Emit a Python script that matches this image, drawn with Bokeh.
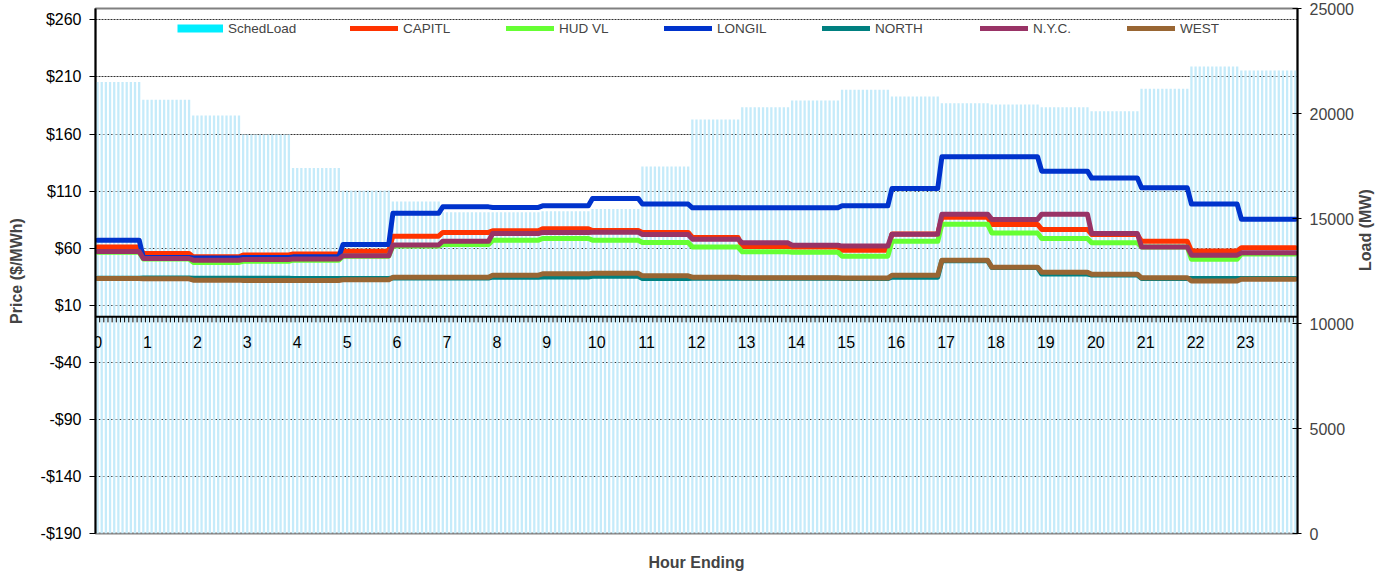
import math
import numpy as np
from bokeh.plotting import figure
from bokeh.models import (Range1d, LinearAxis, FixedTicker, Span, Legend, LegendItem,
                          ColumnDataSource)
from bokeh.embed import file_html
from bokeh.resources import INLINE
from bokeh.core.properties import value

# ---------------- data (hourly values) ----------------
hours = list(range(24))
hour_labels = [str(h) for h in hours]
sched_load = [21500, 20650, 19900, 19000, 17400, 16330, 15810, 15300, 15300, 15350,
              15450, 17480, 19710, 20300, 20620, 21130, 20810, 20490, 20430, 20300,
              20110, 21180, 22240, 22050]
capitl = [61.1, 55.3, 52.4, 54.0, 55.0, 57.4, 70.5, 73.8, 75.2, 77.0, 75.5, 73.8,
          69.4, 61.5, 61.0, 58.2, 72.5, 87.0, 80.8, 76.4, 72.0, 66.1, 57.6, 60.3]
hud_vl = [56.5, 50.5, 47.5, 48.5, 49.5, 53.0, 62.0, 63.2, 67.0, 68.5, 67.0, 65.0,
          61.0, 56.8, 56.5, 53.0, 66.0, 81.0, 73.4, 68.5, 64.7, 61.0, 50.4, 55.0]
longil = [67.0, 51.8, 51.5, 51.8, 52.4, 63.2, 90.5, 96.2, 95.7, 97.1, 103.6, 98.6,
          95.4, 95.4, 95.4, 97.1, 112.3, 140.1, 140.1, 127.5, 121.4, 112.9, 98.6, 85.4]
north = [33.6, 33.8, 33.6, 33.6, 33.4, 33.4, 33.8, 33.8, 34.6, 34.8, 35.4, 33.4,
         33.6, 33.6, 33.6, 33.4, 34.6, 49.0, 43.0, 37.3, 36.5, 33.5, 33.4, 33.4]
nyc = [57.0, 51.0, 49.5, 50.0, 50.6, 53.3, 62.8, 66.1, 72.9, 73.8, 74.0, 72.0,
       67.9, 64.7, 62.6, 61.8, 72.3, 89.8, 85.2, 89.8, 72.9, 61.1, 53.9, 55.9]
west = [33.4, 33.2, 32.0, 31.6, 31.7, 32.3, 34.5, 34.5, 36.3, 37.5, 38.0, 35.8,
        34.6, 34.0, 34.0, 33.8, 36.3, 49.5, 43.3, 39.0, 37.2, 34.0, 31.3, 32.8]
price_ticks = list(range(-190, 261, 50))
load_ticks = list(range(0, 25001, 5000))

series_names = ["CAPITL", "HUD VL", "LONGIL", "NORTH", "N.Y.C.", "WEST"]
series_vals = [capitl, hud_vl, longil, north, nyc, west]
series_colors = ["#FF3300", "#66FF33", "#0033CC", "#008080", "#993366", "#996633"]

# 5-minute intervals over the day (hour-ending convention)
n_pts = 289
k = np.arange(n_pts)
hour_of_pt = np.minimum((k + 1) // 12, 23)
xs = k + 0.5

FONT = "Liberation Sans"

p = figure(width=1385, height=573, x_range=Range1d(0, n_pts), y_range=Range1d(-190, 270),
           output_backend="svg", toolbar_location=None,
           min_border_left=95, min_border_right=87, min_border_top=8, min_border_bottom=40)
p.extra_y_ranges = {"load": Range1d(0, 25000)}
p.background_fill_color = "white"
p.outline_line_color = "#808080"
p.outline_line_width = 2

# left axis
ya = p.yaxis[0]
ya.ticker = FixedTicker(ticks=price_ticks)
ya.major_label_overrides = {t: ("$%d" % t if t >= 0 else "-$%d" % (-t)) for t in price_ticks}
ya.axis_label = "Price ($/MWh)"
ya.axis_label_text_font = FONT
ya.axis_label_text_font_style = "bold"
ya.axis_label_text_font_size = "16px"
ya.axis_label_standoff = 13
ya.major_label_text_font = FONT
ya.major_label_text_font_size = "16px"
ya.major_label_text_color = "black"
ya.axis_line_color = "black"
ya.axis_line_width = 2
ya.major_tick_in = 0
ya.major_tick_out = 6
ya.major_tick_line_color = "black"
ya.minor_tick_line_color = None
ya.major_label_standoff = 8

# right axis
ra = LinearAxis(y_range_name="load", ticker=FixedTicker(ticks=load_ticks))
ra.axis_label = "Load (MW)"
ra.axis_label_orientation = math.pi / 2
ra.axis_label_text_font = FONT
ra.axis_label_text_font_style = "bold"
ra.axis_label_text_font_size = "16px"
ra.axis_label_standoff = 9
ra.major_label_text_font = FONT
ra.major_label_text_font_size = "16px"
ra.axis_line_color = "black"
ra.axis_line_width = 2
ra.major_tick_in = 5
ra.major_tick_out = 4
ra.major_tick_line_color = "black"
ra.minor_tick_line_color = None
ra.major_label_standoff = 8
p.add_layout(ra, "right")

# bottom axis: only the title
xa = p.xaxis[0]
xa.ticker = FixedTicker(ticks=[])
xa.axis_line_color = None
xa.major_tick_line_color = None
xa.minor_tick_line_color = None
xa.major_label_standoff = 0
xa.axis_label = "Hour Ending"
xa.axis_label_text_font = FONT
xa.axis_label_text_font_style = "bold"
xa.axis_label_text_font_size = "16px"
xa.axis_label_standoff = 20

p.xgrid.visible = False
p.ygrid.ticker = FixedTicker(ticks=price_ticks)
p.ygrid.grid_line_color = "#303030"
p.ygrid.grid_line_dash = "2 1"
p.ygrid.grid_line_width = 1

# load bars
load_src = ColumnDataSource(dict(x=xs, top=np.array(sched_load)[hour_of_pt]))
p.vbar(x="x", top="top", bottom=0, width=0.55, source=load_src, y_range_name="load",
       fill_color="#C5EBFA", line_color=None)

# horizontal axis crossing at price 0
p.add_layout(Span(location=0, dimension="width", line_color="black", line_width=2))
tick_x = np.arange(n_pts + 1)
p.segment(x0=tick_x, x1=tick_x, y0=np.zeros(len(tick_x)), y1=np.full(len(tick_x), -5.0),
          line_color="black", line_width=1)
lab_src = ColumnDataSource(dict(x=[12 * h + 0.5 for h in hours], y=[0] * 24, text=hour_labels))
p.text(x="x", y="y", text="text", source=lab_src, text_align="center", text_baseline="top",
       y_offset=19, text_font=value(FONT), text_font_size="16px", text_color="black")

# legend proxy for load (nothing drawn)
proxy = p.line(x=[0.0], y=[np.nan], line_color="#00EEFF", line_width=8, line_cap="butt")

renderers = [proxy]
for name, vals, col in zip(series_names, series_vals, series_colors):
    r = p.line(x=xs, y=np.array(vals)[hour_of_pt], line_color=col, line_width=5,
               line_join="round", line_cap="round")
    renderers.append(r)

# one legend box per entry, each placed where the original entry sits
labels = ["SchedLoad"] + series_names
glyph_starts = [181, 354, 510, 668, 826, 984, 1131]   # page px of each legend glyph
box_end = 1252
frame_left, frame_top, frame_h = 95, 8, 525
pad = 4
for i, (lab, r) in enumerate(zip(labels, renderers)):
    gw = 46 if i == 0 else 48
    nxt = glyph_starts[i + 1] if i + 1 < len(glyph_starts) else box_end + pad
    lw = (nxt - pad) - (glyph_starts[i] + gw + 5) - pad
    lg = Legend(items=[LegendItem(label=lab, renderers=[r])], orientation="horizontal",
                location=(glyph_starts[i] - pad - frame_left, frame_h - 4 - 24),
                glyph_width=gw, glyph_height=16, label_width=lw, label_height=16,
                label_standoff=5, spacing=0, padding=pad, margin=0,
                border_line_color=None, background_fill_color="white",
                background_fill_alpha=1,
                label_text_font=FONT, label_text_font_size="13.5px")
    p.add_layout(lg)

open("out.html", "w").write(file_html(p, INLINE))
